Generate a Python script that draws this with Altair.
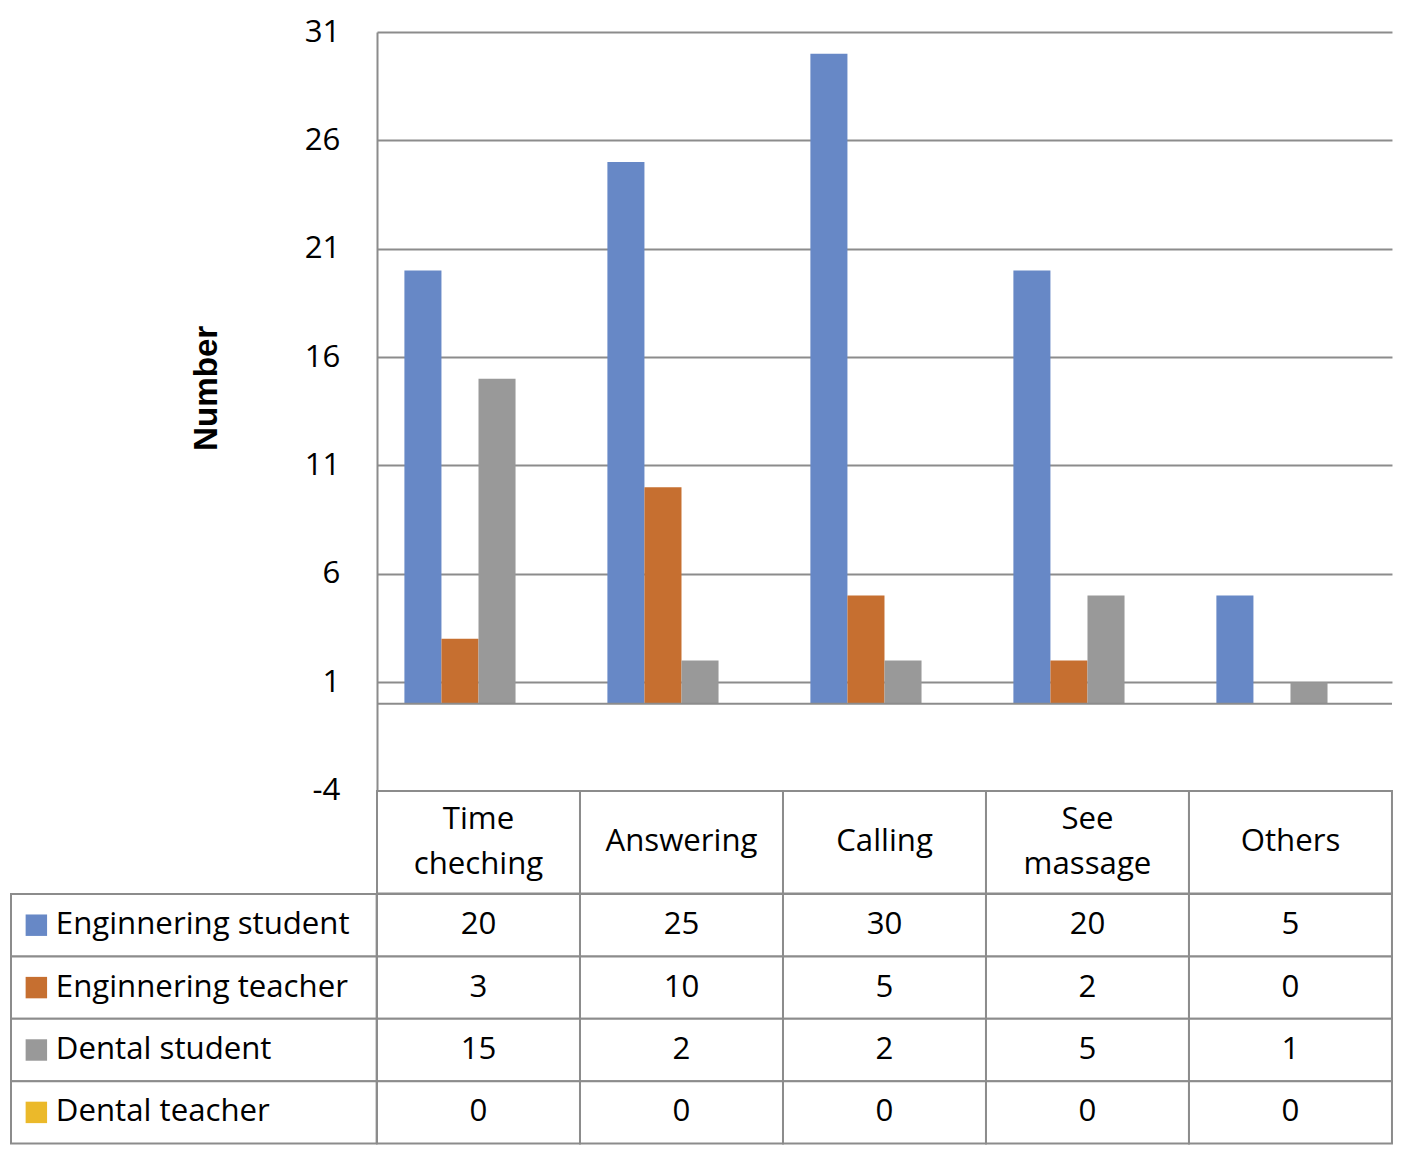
import altair as alt
import pandas as pd

categories = ["Time cheching", "Answering", "Calling", "See massage", "Others"]
series = ["Enginnering student", "Enginnering teacher", "Dental student", "Dental teacher"]
eng_student = [20, 25, 30, 20, 5]
eng_teacher = [3, 10, 5, 2, 0]
dental_student = [15, 2, 2, 5, 1]
dental_teacher = [0, 0, 0, 0, 0]
y_ticks = [-4, 1, 6, 11, 16, 21, 26, 31]
colors = ["#6788C6", "#C66F30", "#999999", "#EBB92A"]

values = [eng_student, eng_teacher, dental_student, dental_teacher]
rows = []
for sname, vals in zip(series, values):
    for c, v in zip(categories, vals):
        rows.append({"category": c, "series": sname, "value": v})
df = pd.DataFrame(rows)

S = 0.975
FONT = "Open Sans"
FS = 32 * S
LINE = "#8c8c8c"
LW = 2
LH = 46 * S

left_w = 375 * S
plot_w = 1041 * S
bar_h = 778 * S
head_h = 105 * S
row_h = 64 * S

color_enc = alt.Color("series:N", sort=series,
                      scale=alt.Scale(domain=series, range=colors), legend=None)

# ---- bar chart ----
y_axis = alt.Axis(values=y_ticks, grid=True, gridColor=LINE, gridWidth=LW,
                  domain=True, domainColor=LINE, domainWidth=LW, ticks=False,
                  labelExpr="toString(datum.value)",
                  labelPadding=38 * S, labelFont=FONT, labelFontSize=FS, labelColor="#000",
                  title="Number", titleFont="Liberation Sans", titleFontSize=34 * S,
                  titleFontWeight="bold", titleColor="#000", titleX=-175 * S,
                  titleY=365 * S, titleBaseline="middle", titleAngle=270)
y_scale = alt.Scale(domain=[-4, 31], nice=False, zero=False)

bars = alt.Chart(df).mark_bar().encode(
    x=alt.X("category:N", sort=categories, axis=None,
            scale=alt.Scale(paddingInner=0.27, paddingOuter=0.135)),
    xOffset=alt.XOffset("series:N", sort=series,
                        scale=alt.Scale(paddingInner=0, paddingOuter=0)),
    y=alt.Y("value:Q", scale=y_scale, axis=y_axis, title="Number"),
    y2=alt.datum(0),
    color=color_enc,
)
zero_rule = alt.Chart(pd.DataFrame({"value": [0]})).mark_rule(
    color=LINE, strokeWidth=LW).encode(
    y=alt.Y("value:Q", scale=y_scale, title="Number"))
top = alt.layer(bars, zero_rule).properties(width=plot_w, height=bar_h)

# ---- header row ----
hdr_df = pd.DataFrame({"category": categories})
xband = alt.X("category:N", sort=categories, axis=None,
              scale=alt.Scale(paddingInner=0, paddingOuter=0))
hdr_base = alt.Chart(hdr_df)
header = alt.layer(
    hdr_base.mark_rect(fill="white", stroke=LINE, strokeWidth=LW).encode(
        x=xband, y=alt.value(0), y2=alt.value(head_h)),
    hdr_base.transform_filter("indexof(datum.category, ' ') < 0").mark_text(
        font=FONT, fontSize=FS, color="black", baseline="middle").encode(
        x=xband, y=alt.value(head_h / 2), text="category:N"),
    hdr_base.transform_filter("indexof(datum.category, ' ') >= 0").mark_text(
        font=FONT, fontSize=FS, lineBreak=" ", lineHeight=LH,
        color="black", baseline="middle").encode(
        x=xband, y=alt.value(head_h / 2 - LH / 2), text="category:N"),
).properties(width=plot_w, height=head_h)

# ---- table body ----
yband = alt.Y("series:N", sort=series, axis=None,
              scale=alt.Scale(paddingInner=0, paddingOuter=0))
body = alt.layer(
    alt.Chart(df).mark_rect(fill="white", stroke=LINE, strokeWidth=LW).encode(
        x=xband, y=yband),
    alt.Chart(df).mark_text(font=FONT, fontSize=FS, color="black").encode(
        x=xband, y=yband, text="value:Q"),
).properties(width=plot_w, height=4 * row_h)

ser_df = pd.DataFrame({"series": series})
left_body = alt.layer(
    alt.Chart(ser_df).mark_rect(fill="white", stroke=LINE, strokeWidth=LW).encode(
        y=yband, x=alt.value(0), x2=alt.value(left_w)),
    alt.Chart(ser_df).mark_square(size=(22 * S) ** 2, opacity=1, filled=True).encode(
        y=yband, x=alt.value(26 * S), color=color_enc),
    alt.Chart(ser_df).mark_text(font=FONT, fontSize=FS, align="left", color="black").encode(
        y=yband, x=alt.value(46 * S), text="series:N"),
).properties(width=left_w, height=4 * row_h)


def spacer(w, h):
    return alt.Chart(pd.DataFrame({"v": [0]})).mark_point(opacity=0).encode(
        x=alt.value(0), y=alt.value(0)).properties(width=w, height=h)


chart = alt.concat(
    spacer(left_w, bar_h), top,
    spacer(left_w, head_h), header,
    left_body, body,
    columns=2, spacing=0, bounds="flush", align="each",
).properties(padding={"top": 8, "left": 0, "right": 2, "bottom": 2}).configure_view(stroke=None)

chart.save("out.html", embed_options={"renderer": "svg", "actions": False})
